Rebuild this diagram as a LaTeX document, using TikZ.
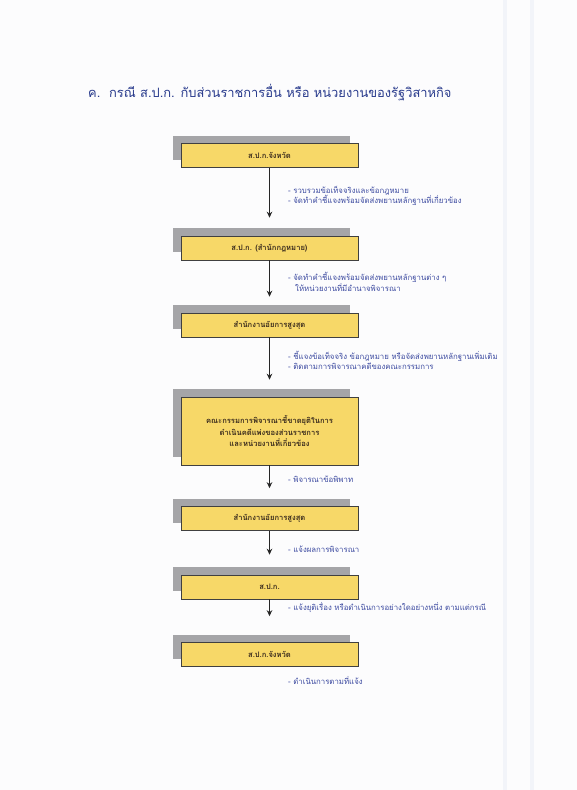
\documentclass[tikz,border=0pt]{standalone}
\usepackage{fontspec}
\usetikzlibrary{shadows,arrows.meta}
\newfontfamily\thai[Script=Thai]{Loma}
\definecolor{boxyellow}{RGB}{247,216,104}
\definecolor{shadowgray}{RGB}{165,165,168}
\definecolor{titleblue}{RGB}{40,58,140}
\definecolor{noteblue}{RGB}{60,74,160}
\definecolor{boxtext}{RGB}{60,45,30}
\definecolor{paper}{RGB}{252,252,253}
\definecolor{band}{RGB}{242,244,249}
\tikzset{
  ybox/.style={fill=boxyellow, draw=black!75, line width=0.6pt,
    minimum width=177pt, minimum height=24pt, inner sep=2pt,
    text=boxtext, font=\thai\bfseries\fontsize{7.6}{11.5}\selectfont, align=center,
    drop shadow={shadow xshift=-8pt, shadow yshift=8pt, fill=shadowgray, opacity=1}},
  note/.style={anchor=west, text=noteblue, font=\thai\fontsize{7.8}{10}\selectfont,
    align=left, inner sep=0pt},
  arr/.style={-{Stealth[length=6pt,width=5.5pt]}, line width=1.3pt, draw=black!85}
}
\begin{document}
\begin{tikzpicture}[x=1pt,y=-1pt]
\useasboundingbox (0,0) rectangle (577,790);
\fill[paper] (0,0) rectangle (577,790);
\fill[band] (503,0) rectangle (507,790);
\fill[band] (530,0) rectangle (534,790);

\node[anchor=west, text=titleblue, font=\thai\fontsize{12.9}{15}\selectfont, inner sep=0pt]
  (title) at (88,93) {ค.\ \ กรณี ส.ป.ก. กับส่วนราชการอื่น หรือ หน่วยงานของรัฐวิสาหกิจ};

\node[ybox] (b1) at (269.5,155.5) {ส.ป.ก.จังหวัด};
\node[ybox] (b2) at (269.5,248) {ส.ป.ก. (สำนักกฎหมาย)};
\node[ybox] (b3) at (269.5,325) {สำนักงานอัยการสูงสุด};
\node[ybox, minimum height=68pt] (b4) at (269.5,431) {คณะกรรมการพิจารณาชี้ขาดยุติในการ\\ดำเนินคดีแพ่งของส่วนราชการ\\และหน่วยงานที่เกี่ยวข้อง};
\node[ybox] (b5) at (269.5,518.5) {สำนักงานอัยการสูงสุด};
\node[ybox] (b6) at (269.5,587) {ส.ป.ก.};
\node[ybox] (b7) at (269.5,654.5) {ส.ป.ก.จังหวัด};

\draw[arr] (b1.south) -- ([yshift=18pt]b2.north);
\draw[arr] (b2.south) -- ([yshift=16pt]b3.north);
\draw[arr] (b3.south) -- ([yshift=17pt]b4.north);
\draw[arr] (b4.south) -- ([yshift=18pt]b5.north);
\draw[arr] (b5.south) -- ([yshift=20pt]b6.north);
\draw[arr] (b6.south) -- ([yshift=26pt]b7.north);

\node[note] (n1) at (288,196) {- รวบรวมข้อเท็จจริงและข้อกฎหมาย\\- จัดทำคำชี้แจงพร้อมจัดส่งพยานหลักฐานที่เกี่ยวข้อง};
\node[note] (n2) at (288,282) {- จัดทำคำชี้แจงพร้อมจัดส่งพยานหลักฐานต่าง ๆ\\\hspace*{7pt}ให้หน่วยงานที่มีอำนาจพิจารณา};
\node[note] (n3) at (288,360.5) {- ชี้แจงข้อเท็จจริง ข้อกฎหมาย หรือจัดส่งพยานหลักฐานเพิ่มเติม\\- ติดตามการพิจารณาคดีของคณะกรรมการ};
\node[note] (n4) at (288,479) {- พิจารณาข้อพิพาท};
\node[note] (n5) at (288,549) {- แจ้งผลการพิจารณา};
\node[note] (n6) at (288,607) {- แจ้งยุติเรื่อง หรือดำเนินการอย่างใดอย่างหนึ่ง ตามแต่กรณี};
\node[note] (n7) at (288,681) {- ดำเนินการตามที่แจ้ง};
\end{tikzpicture}
\end{document}
